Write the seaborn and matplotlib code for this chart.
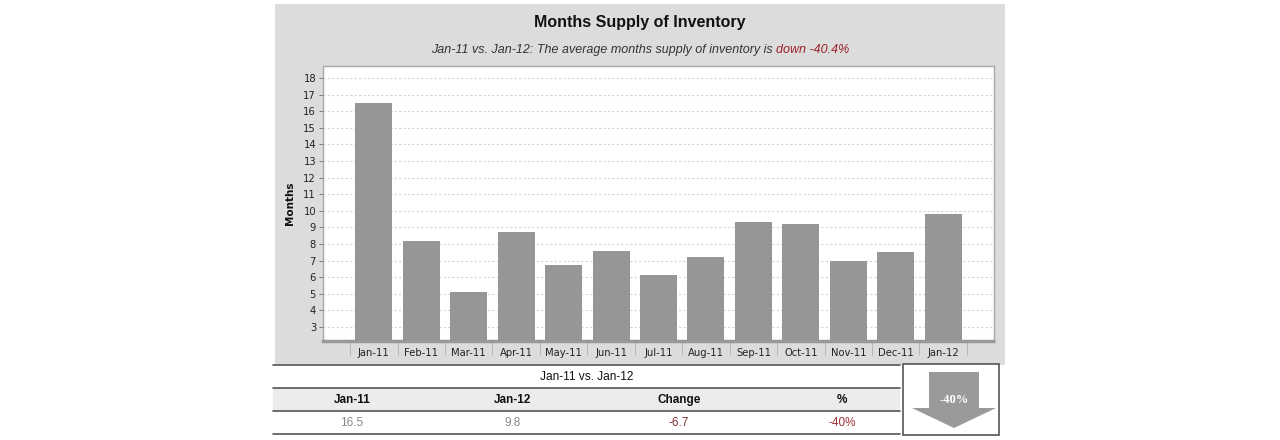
import matplotlib
matplotlib.use("Agg")
import matplotlib.pyplot as plt
import seaborn as sns
from matplotlib.patches import Rectangle, Polygon
from matplotlib.lines import Line2D

months = ["Jan-11", "Feb-11", "Mar-11", "Apr-11", "May-11", "Jun-11", "Jul-11",
          "Aug-11", "Sep-11", "Oct-11", "Nov-11", "Dec-11", "Jan-12"]
supply = [16.5, 8.2, 5.1, 8.7, 6.7, 7.6, 6.1, 7.2, 9.3, 9.2, 7.0, 7.5, 9.8]
yticks = list(range(3, 19))

title = "Months Supply of Inventory"
subtitle_a = "Jan-11 vs. Jan-12: The average months supply of inventory is "
subtitle_b = "down -40.4%"
table_title = "Jan-11 vs. Jan-12"
table_headers = ["Jan-11", "Jan-12", "Change", "%"]
table_values = ["16.5", "9.8", "-6.7", "-40%"]
arrow_label = "-40%"

sns.set_theme(style="white")
plt.rcParams["font.family"] = ["DejaVu Sans"]

W, H = 1280, 440
fig = plt.figure(figsize=(W / 100, H / 100), dpi=100)
fig.patch.set_facecolor("white")


def fx(x):
    return x / W


def fy(y):
    return 1 - y / H


# grey panel
fig.add_artist(Rectangle((fx(275), fy(365)), fx(1005) - fx(275), fy(4) - fy(365),
                         transform=fig.transFigure, facecolor="#dcdcdc",
                         edgecolor="none", zorder=0))

# plot axes
ax = fig.add_axes([fx(323), fy(341), fx(994) - fx(323), fy(66) - fy(341)])
ax.set_facecolor("white")
sns.barplot(x=months, y=supply, color="#969696", saturation=1, width=0.78, ax=ax,
            linewidth=0, edgecolor="none", zorder=3)
ax.set_xlim(-1.07, 13.07)
ax.set_ylim(2.15, 18.72)
ax.set_yticks(yticks)
ax.set_yticklabels([str(t) for t in yticks], fontsize=7.2, color="#222222")
ax.yaxis.grid(True, linestyle=(0, (2, 2)), color="#d4d4d4", linewidth=0.8, zorder=0)
ax.set_axisbelow(True)
ax.tick_params(axis="y", which="major", length=3, width=0.7, color="#777777",
               left=True, pad=2)
ax.set_xticks(range(len(months)))
ax.set_xticklabels(months, fontsize=7.2, color="#222222")
ax.set_xticks([i - 0.5 for i in range(len(months) + 1)], minor=True)
ax.tick_params(axis="x", which="major", length=0, pad=5)
ax.tick_params(axis="x", which="minor", length=10, width=0.8, color="#b8b8b8",
               bottom=True)
for s in ["top", "right", "left"]:
    ax.spines[s].set_color("#a8a8a8")
    ax.spines[s].set_linewidth(1)
ax.spines["bottom"].set_color("#999999")
ax.spines["bottom"].set_linewidth(2.5)
ax.spines["bottom"].set_linestyle((0, (1, 1)))
ax.set_xlabel("")
ax.set_ylabel("Months", fontsize=7.5, fontweight="bold", color="#111111", labelpad=6)

# titles
fig.text(fx(640), fy(22), title, ha="center", va="center", fontsize=11.5,
         fontweight="bold", family=["Liberation Sans"], color="#111111")
t1 = fig.text(fx(435), fy(50), subtitle_a, ha="left", va="center", fontsize=9,
              style="italic", family=["Liberation Sans"], color="#333333")
t2 = fig.text(fx(435), fy(50), subtitle_b, ha="left", va="center", fontsize=9,
              style="italic", family=["Liberation Sans"], color="#9b2228")
fig.canvas.draw()
b1 = t1.get_window_extent()
b2 = t2.get_window_extent()
total = b1.width + b2.width
start = 640 - total / 2
t1.set_x(fx(start))
t2.set_x(fx(start + b1.width))

# table
tl, tr = 273, 900
fig.add_artist(Rectangle((fx(tl), fy(411)), fx(tr) - fx(tl), fy(388) - fy(411),
                         transform=fig.transFigure, facecolor="#ececec",
                         edgecolor="none", zorder=1))
for yl in [365, 388, 411, 434]:
    fig.add_artist(Line2D([fx(tl), fx(tr)], [fy(yl), fy(yl)],
                          transform=fig.transFigure, color="#555555",
                          linewidth=1.2, zorder=2))
fig.text(fx((tl + tr) / 2), fy(377), table_title, ha="center", va="center",
         fontsize=8.6, family=["Liberation Sans"], color="#111111")
col_x = [352, 513, 679, 842]
val_colors = ["#888888", "#888888", "#7a3030", "#a03030"]
for cx, h, v, c in zip(col_x, table_headers, table_values, val_colors):
    fig.text(fx(cx), fy(400), h, ha="center", va="center", fontsize=8.5,
             fontweight="bold", family=["Liberation Sans"], color="#111111")
    fig.text(fx(cx), fy(423), v, ha="center", va="center", fontsize=8.5,
             family=["Liberation Sans"], color=c)

# arrow box
fig.add_artist(Rectangle((fx(903), fy(435)), fx(999) - fx(903), fy(364) - fy(435),
                         transform=fig.transFigure, facecolor="white",
                         edgecolor="#555555", linewidth=1.2, zorder=2))
arrow_pts = [(929, 372), (979, 372), (979, 408), (996, 408), (954, 428),
             (912, 408), (929, 408)]
fig.add_artist(Polygon([(fx(x), fy(y)) for x, y in arrow_pts], closed=True,
                       transform=fig.transFigure, facecolor="#9a9a9a",
                       edgecolor="none", zorder=3))
fig.text(fx(954), fy(400), arrow_label, ha="center", va="center", fontsize=9,
         fontweight="bold", family=["Liberation Serif"], color="white", zorder=4)

fig.savefig("out.png", dpi=100)
